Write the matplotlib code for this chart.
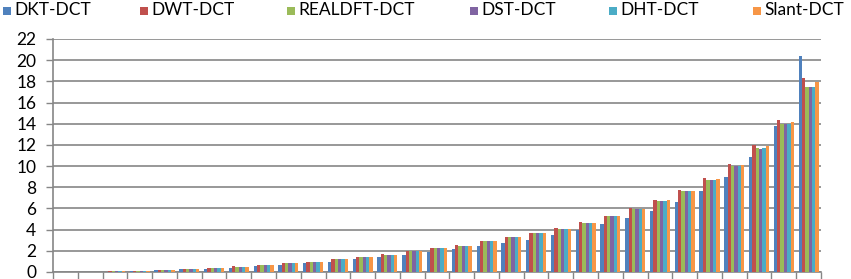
#!/usr/bin/env python3
# Gruppiertes Balkendiagramm: Vergleich von sechs DCT-Hybridtransformationen
import matplotlib
matplotlib.use("Agg")
import matplotlib.pyplot as plt
from matplotlib.patches import Rectangle
import numpy as np

# Reihen, von links nach rechts steigend
series_names = ["DKT-DCT", "DWT-DCT", "REALDFT-DCT", "DST-DCT", "DHT-DCT", "Slant-DCT"]

dkt_dct = [0.0, 0.0, 0.04, 0.10, 0.18, 0.25, 0.32, 0.42, 0.52, 0.68, 0.82,
           0.97, 1.20, 1.42, 1.60, 1.86, 2.14, 2.42, 2.74, 3.05, 3.46, 3.97,
           4.50, 5.07, 5.76, 6.58, 7.62, 9.00, 10.86, 13.82, 20.37]
dwt_dct = [0.0, 0.01, 0.06, 0.13, 0.23, 0.31, 0.40, 0.52, 0.64, 0.87, 0.99,
           1.22, 1.45, 1.67, 2.01, 2.27, 2.52, 2.93, 3.30, 3.72, 4.18, 4.69,
           5.31, 6.01, 6.80, 7.74, 8.84, 10.23, 12.02, 14.38, 18.29]
realdft_dct = [0.0, 0.01, 0.05, 0.12, 0.22, 0.30, 0.38, 0.50, 0.62, 0.85, 0.97,
               1.20, 1.42, 1.64, 1.98, 2.24, 2.48, 2.90, 3.27, 3.68, 4.10, 4.66,
               5.29, 5.98, 6.70, 7.62, 8.69, 10.00, 11.70, 14.00, 17.44]
dst_dct = [0.0, 0.01, 0.05, 0.12, 0.22, 0.30, 0.38, 0.50, 0.62, 0.85, 0.97,
           1.20, 1.42, 1.64, 1.98, 2.24, 2.48, 2.90, 3.27, 3.68, 4.10, 4.66,
           5.29, 5.98, 6.68, 7.62, 8.69, 10.00, 11.62, 14.00, 17.44]
dht_dct = [0.0, 0.01, 0.05, 0.12, 0.22, 0.30, 0.38, 0.50, 0.62, 0.85, 0.97,
           1.20, 1.42, 1.64, 1.98, 2.24, 2.48, 2.90, 3.27, 3.68, 4.10, 4.66,
           5.29, 5.98, 6.72, 7.62, 8.69, 10.02, 11.70, 14.00, 17.44]
slant_dct = [0.0, 0.01, 0.05, 0.12, 0.22, 0.30, 0.38, 0.50, 0.62, 0.85, 0.97,
             1.20, 1.42, 1.64, 1.98, 2.24, 2.48, 2.90, 3.27, 3.68, 4.10, 4.66,
             5.29, 5.98, 6.80, 7.66, 8.74, 10.10, 11.90, 14.20, 17.97]

y_ticks = list(range(0, 23, 2))

colors = ["#4F81BD", "#C0504D", "#9BBB59", "#8064A2", "#4BACC6", "#F79646"]

plt.rcParams["font.family"] = ["Lato", "DejaVu Sans"]

W, H = 851, 279
fig = plt.figure(figsize=(W / 100, H / 100), dpi=100)
ax = fig.add_axes([53 / W, 7 / H, (821 - 53) / W, (272 - 39) / H])

alle = [dkt_dct, dwt_dct, realdft_dct, dst_dct, dht_dct, slant_dct]
n_groups = len(dkt_dct)
x = np.arange(n_groups) + 0.5
bar_w = 0.81 / len(alle)

for k, (werte, name, farbe) in enumerate(zip(alle, series_names, colors)):
    offset = (k - (len(alle) - 1) / 2) * bar_w
    ax.bar(x + offset, werte, width=bar_w, color=farbe, label=name,
           linewidth=0, zorder=3)

ax.set_xlim(0, n_groups)
ax.set_ylim(0, 22)
ax.set_yticks(y_ticks)
ax.set_xticks(np.arange(n_groups + 1))
ax.set_xticklabels([])
ax.yaxis.grid(True, color="#868686", linewidth=1.2, zorder=0)
ax.tick_params(axis="y", direction="out", length=5, width=1, color="#868686",
               labelsize=12.5, pad=7)
ax.tick_params(axis="x", direction="out", length=5, width=1, color="#868686")
for s in ["top", "right"]:
    ax.spines[s].set_visible(False)
for s in ["left", "bottom"]:
    ax.spines[s].set_color("#868686")
    ax.spines[s].set_linewidth(1.2)

# Legende oben, Eintraege von Hand gesetzt (Excel-Abstaende)
legend_x = [3, 140, 287, 470, 609, 753]
for lx, name, farbe in zip(legend_x, series_names, colors):
    fig.add_artist(Rectangle((lx / W, (H - 15) / H), 8 / W, 8 / H,
                             transform=fig.transFigure, color=farbe, lw=0))
    fig.text((lx + 11) / W, (H - 10) / H, name, fontsize=12.5,
             ha="left", va="center")

fig.savefig("out.png", dpi=100)
